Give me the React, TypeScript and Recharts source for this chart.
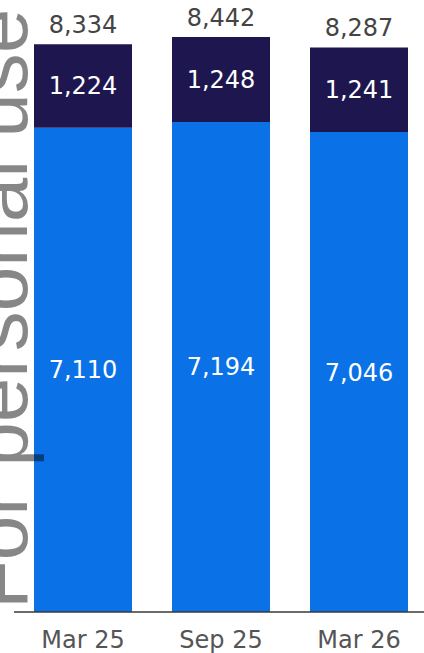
import { BarChart, Bar, XAxis, YAxis, LabelList } from 'recharts'

const periods = ['Mar 25', 'Sep 25', 'Mar 26']
const baseValues = [7110, 7194, 7046]
const topValues = [1224, 1248, 1241]

const BLUE = '#0a72e6'
const NAVY = '#1e174f'
const FONT = 'DejaVu Sans'

const data = periods.map((period, i) => ({
  period,
  base: baseValues[i],
  top: topValues[i],
  total: baseValues[i] + topValues[i],
}))

const fmt = (v: number) => Number(v).toLocaleString('en-US')

export default function App() {
  return (
    <div style={{ position: 'absolute', top: 0, left: 0, width: 424, height: 653, overflow: 'hidden', background: '#fff' }}>
      <BarChart
        width={430}
        height={653}
        data={data}
        margin={{ top: 0, right: 2, left: 14, bottom: 0 }}
      >
        <XAxis
          dataKey="period"
          height={41}
          tickLine={false}
          tickMargin={13}
          axisLine={{ stroke: '#383838', strokeWidth: 1.5 }}
          tick={{ fill: '#555', fontSize: 24, fontFamily: FONT }}
        />
        <YAxis hide domain={[0, 8984]} />
        <Bar dataKey="base" stackId="a" fill={BLUE} barSize={98} isAnimationActive={false}>
          <LabelList dataKey="base" position="center" formatter={fmt} fill="#fff" fontSize={24} fontFamily={FONT} />
        </Bar>
        <Bar dataKey="top" stackId="a" fill={NAVY} barSize={98} isAnimationActive={false}>
          <LabelList dataKey="top" position="center" formatter={fmt} fill="#fff" fontSize={24} fontFamily={FONT} />
          <LabelList dataKey="total" position="top" offset={11} formatter={fmt} fill="#444" fontSize={24} fontFamily={FONT} />
        </Bar>
      </BarChart>
      <svg width={424} height={653} style={{ position: 'absolute', top: 0, left: 0, pointerEvents: 'none' }}>
        <text
          x={27}
          y={609}
          transform="rotate(-90, 27, 609)"
          fontFamily="Liberation Sans"
          fontSize={80}
          fill="#000"
          fillOpacity={0.47}
        >
          For personal use
        </text>
      </svg>
    </div>
  )
}
